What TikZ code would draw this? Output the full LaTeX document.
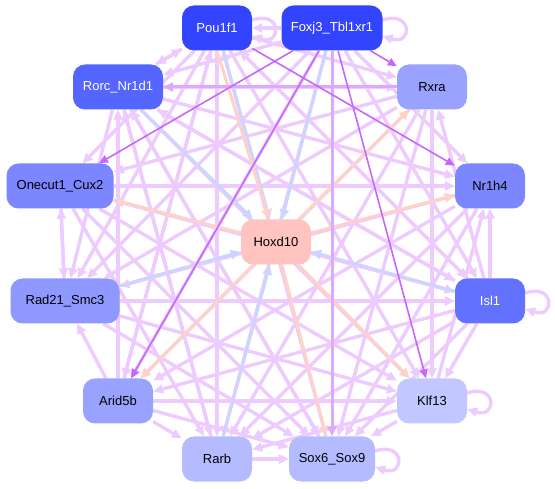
\documentclass[tikz,border=0pt]{standalone}
\usepackage{fontspec}
\setmainfont{Liberation Sans}
\usetikzlibrary{arrows.meta, positioning, backgrounds}

\definecolor{hubc}{HTML}{3344FF}
\definecolor{tfa}{HTML}{5566FF}
\definecolor{tfb}{HTML}{6272FF}
\definecolor{tfc}{HTML}{7B86FF}
\definecolor{tfd}{HTML}{8E98FF}
\definecolor{tfe}{HTML}{99A2FF}
\definecolor{tff}{HTML}{B4BBFF}
\definecolor{tfg}{HTML}{C2C8FF}
\definecolor{tgtc}{HTML}{FFC4C0}
\definecolor{elight}{HTML}{EDCBFF}
\definecolor{emid}{HTML}{DDA8FF}
\definecolor{edark}{HTML}{C766FF}
\definecolor{epink}{HTML}{FFD2C8}
\definecolor{eblue}{HTML}{CDD5FF}

\begin{document}
\begin{tikzpicture}[
    x=1pt, y=-1pt,
    gene/.style={rectangle, rounded corners=12pt, minimum width=70pt,
                 minimum height=45pt, inner xsep=4pt,
                 font=\fontsize{13}{15}\selectfont, text centered},
    lt/.style={draw=elight, line width=3.4pt,
               -{Triangle[length=10pt,width=9pt]}},
    md/.style={draw=emid, line width=3pt,
               -{Triangle[length=10pt,width=9pt]}},
    dk/.style={draw=edark, line width=1.6pt,
               -{Triangle[length=9pt,width=8pt]}},
    pk/.style={draw=epink, line width=3pt,
               -{Triangle[length=10pt,width=9pt]}},
    bl/.style={draw=eblue, line width=3pt,
               -{Triangle[length=10pt,width=9pt]}},
  ]
    \useasboundingbox (0,0) rectangle (555,489);

    % Genler (dairesel)
    \node[gene, fill=hubc, text=white] (pou) at (217,28) {Pou1f1};
    \node[gene, fill=hubc, text=white, minimum width=101pt] (fox)
      at (332,28) {Foxj3\_Tbl1xr1};
    \node[gene, fill=tfa, text=white, minimum width=90pt] (ror)
      at (118,87) {Rorc\_Nr1d1};
    \node[gene, fill=tfe] (rxr) at (432,87) {Rxra};
    \node[gene, fill=tfc, minimum width=107pt] (one)
      at (60,186) {Onecut1\_Cux2};
    \node[gene, fill=tfc] (nr1) at (490,186) {Nr1h4};
    \node[gene, fill=tfd, minimum width=109pt] (rad)
      at (65,301) {Rad21\_Smc3};
    \node[gene, fill=tfb, text=white] (isl) at (490,301) {Isl1};
    \node[gene, fill=tfe] (ari) at (118,401) {Arid5b};
    \node[gene, fill=tfg] (klf) at (432,401) {Klf13};
    \node[gene, fill=tff] (rar) at (217,459) {Rarb};
    \node[gene, fill=tff, minimum width=86pt] (sox)
      at (332,459) {Sox6\_Sox9};

    % Hedef gen
    \node[gene, fill=tgtc] (hox) at (276,242) {Hoxd10};

    \begin{scope}[on background layer]
    % Zayif kenarlar
    \foreach \a/\b in {pou/ror, ror/pou, pou/rxr, pou/one, pou/rad, pou/ari,
        pou/klf, pou/isl, pou/rar, fox/pou, fox/ror, fox/rad, fox/ari,
        fox/rar, fox/isl, fox/nr1, ror/rxr, ror/nr1, ror/isl, ror/klf,
        ror/sox, ror/rar, ror/rad, rxr/one, rxr/rad, rxr/ari, rxr/rar,
        rxr/sox, rxr/klf, one/nr1, one/rad, rad/one, one/isl, one/klf,
        one/sox, one/rar, nr1/rad, nr1/ari, nr1/rar, nr1/sox, isl/nr1,
        rad/isl, rad/klf, rad/sox, ari/rad, isl/ari, isl/rar, isl/sox,
        isl/klf, isl/rxr, isl/pou, isl/ror, isl/one, ari/klf, ari/sox,
        ari/rar, ari/ror, ari/pou, klf/rar, klf/sox, klf/nr1, rar/sox,
        sox/ror, sox/pou, rar/ror}
      \draw[lt] (\a) -- (\b);

    % Dongular
    \foreach \n in {pou,fox,isl,klf,sox}
      \draw[lt] (\n.east) ++(0,-8) .. controls +(30,-10) and +(30,10)
        .. ([yshift=-8pt]\n.east);

    % Mavi ve pembe kenarlar
    \foreach \a in {fox,ror,isl,rad,rar,pou}
      \draw[bl] (\a) -- (hox);
    \foreach \b in {rxr,nr1,one,ari,sox,klf}
      \draw[pk] (hox) -- (\b);
    \draw[pk] (pou.south) -- (hox);

    % Guclu kenarlar
    \foreach \a/\b in {fox/sox, rxr/ror}
      \draw[md] (\a) -- (\b);
    \foreach \a/\b in {fox/rxr, fox/one, pou/nr1, fox/klf, fox/ari}
      \draw[dk] (\a) -- (\b);
    \end{scope}
  \end{tikzpicture}
\end{document}
